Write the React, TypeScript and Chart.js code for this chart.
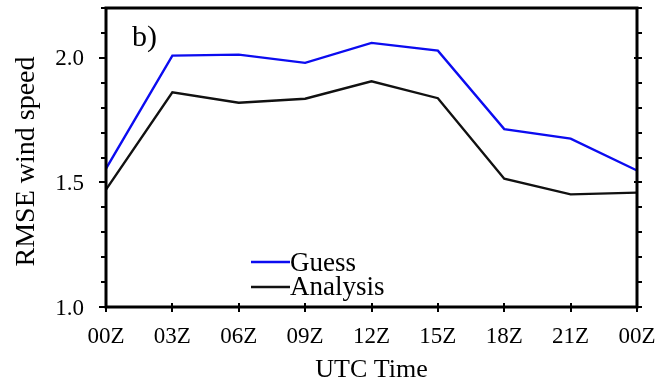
import React, { useEffect, useRef } from "react";
import { Chart, registerables } from "chart.js";
Chart.register(...registerables);

const categories = ["00Z", "03Z", "06Z", "09Z", "12Z", "15Z", "18Z", "21Z", "00Z"];
const guessValues = [1.555, 2.009, 2.013, 1.98, 2.06, 2.029, 1.714, 1.676, 1.548];
const analysisValues = [1.471, 1.862, 1.82, 1.836, 1.906, 1.838, 1.515, 1.452, 1.459];
const yMajorTicks = [1.0, 1.5, 2.0];
const seriesNames = ["Guess", "Analysis"];
const seriesColors = ["#0c0cf0", "#111111"];
const panelLabel = "b)";
const yTitle = "RMSE wind speed";
const xTitle = "UTC Time";

const FONT = "'Liberation Serif', 'DejaVu Serif', serif";

const framePlugin = {
  id: "frame",
  afterDatasetsDraw(chart: any) {
    const { ctx, chartArea: a, scales } = chart;
    const y = scales.y;
    const x = scales.x;
    ctx.save();
    ctx.strokeStyle = "#000";
    ctx.lineWidth = 3;
    ctx.strokeRect(a.left, a.top, a.right - a.left, a.bottom - a.top);
    ctx.lineWidth = 2;
    // y ticks every 0.1
    for (let k = 0; k <= 12; k++) {
      const v = 1.0 + k * 0.1;
      const py = Math.round(y.getPixelForValue(v));
      const major = yMajorTicks.some((m) => Math.abs(m - v) < 1e-6);
      ctx.beginPath();
      ctx.moveTo(a.left - (major ? 7 : 5), py);
      ctx.lineTo(a.left, py);
      ctx.moveTo(a.right + 5, py);
      ctx.lineTo(a.right - (major ? 3 : 0), py);
      ctx.stroke();
    }
    for (let i = 0; i < categories.length; i++) {
      const px = Math.round(x.getPixelForValue(i));
      ctx.beginPath();
      ctx.moveTo(px, a.bottom - 4);
      ctx.lineTo(px, a.bottom + 5);
      ctx.stroke();
    }
    ctx.fillStyle = "#000";
    // y tick labels
    ctx.font = `23px ${FONT}`;
    ctx.textAlign = "right";
    ctx.textBaseline = "alphabetic";
    for (const m of yMajorTicks) {
      const py = y.getPixelForValue(m);
      ctx.fillText(m.toFixed(1), 84, py + 7.5);
    }
    // x tick labels
    ctx.textAlign = "center";
    for (let i = 0; i < categories.length; i++) {
      const px = x.getPixelForValue(i);
      ctx.fillText(categories[i], px, 343);
    }
    // panel label
    ctx.font = `30px ${FONT}`;
    ctx.textAlign = "left";
    ctx.fillText(panelLabel, 132, 46);
    // legend
    ctx.font = `27px ${FONT}`;
    const legY = [262, 287];
    const legBase = [271, 295];
    for (let i = 0; i < seriesNames.length; i++) {
      ctx.strokeStyle = seriesColors[i];
      ctx.lineWidth = 2.4;
      ctx.beginPath();
      ctx.moveTo(251, legY[i]);
      ctx.lineTo(290, legY[i]);
      ctx.stroke();
      ctx.fillStyle = "#000";
      ctx.fillText(seriesNames[i], 290, legBase[i]);
    }
    // y title
    ctx.save();
    ctx.translate(34, 161.5);
    ctx.rotate(-Math.PI / 2);
    ctx.textAlign = "center";
    ctx.textBaseline = "alphabetic";
    ctx.font = `28px ${FONT}`;
    ctx.fillText(yTitle, 0, 0);
    ctx.restore();
    // x title
    ctx.textAlign = "center";
    ctx.textBaseline = "alphabetic";
    ctx.font = `26px ${FONT}`;
    ctx.fillText(xTitle, (a.left + a.right) / 2, 377);
    ctx.restore();
  },
};

export default function App() {
  const ref = useRef<HTMLCanvasElement>(null);
  useEffect(() => {
    document.body.style.margin = "0";
    const chart = new Chart(ref.current!, {
      type: "line",
      data: {
        labels: categories,
        datasets: [
          {
            label: seriesNames[0],
            data: guessValues,
            borderColor: seriesColors[0],
            borderWidth: 2.4,
            pointRadius: 0,
            tension: 0,
          },
          {
            label: seriesNames[1],
            data: analysisValues,
            borderColor: seriesColors[1],
            borderWidth: 2.4,
            pointRadius: 0,
            tension: 0,
          },
        ],
      },
      options: {
        animation: false,
        responsive: false,
        maintainAspectRatio: false,
        layout: { padding: { left: 0, right: 21, top: 8, bottom: 0 } },
        plugins: { legend: { display: false }, tooltip: { enabled: false } },
        scales: {
          x: {
            type: "category",
            offset: false,
            grid: { display: false },
            border: { display: false },
            ticks: { display: false },
            afterFit(scale: any) {
              scale.height = 75;
            },
          },
          y: {
            min: 1.0,
            max: 2.2,
            grid: { display: false },
            border: { display: false },
            ticks: { display: false, stepSize: 0.5 },
            afterFit(scale: any) {
              scale.width = 106;
            },
          },
        },
      },
      plugins: [framePlugin],
    } as any);
    return () => chart.destroy();
  }, []);
  return (
    <div style={{ width: 658, height: 382, background: "#fff" }}>
      <canvas ref={ref} width={658} height={382} style={{ display: "block" }} />
    </div>
  );
}
